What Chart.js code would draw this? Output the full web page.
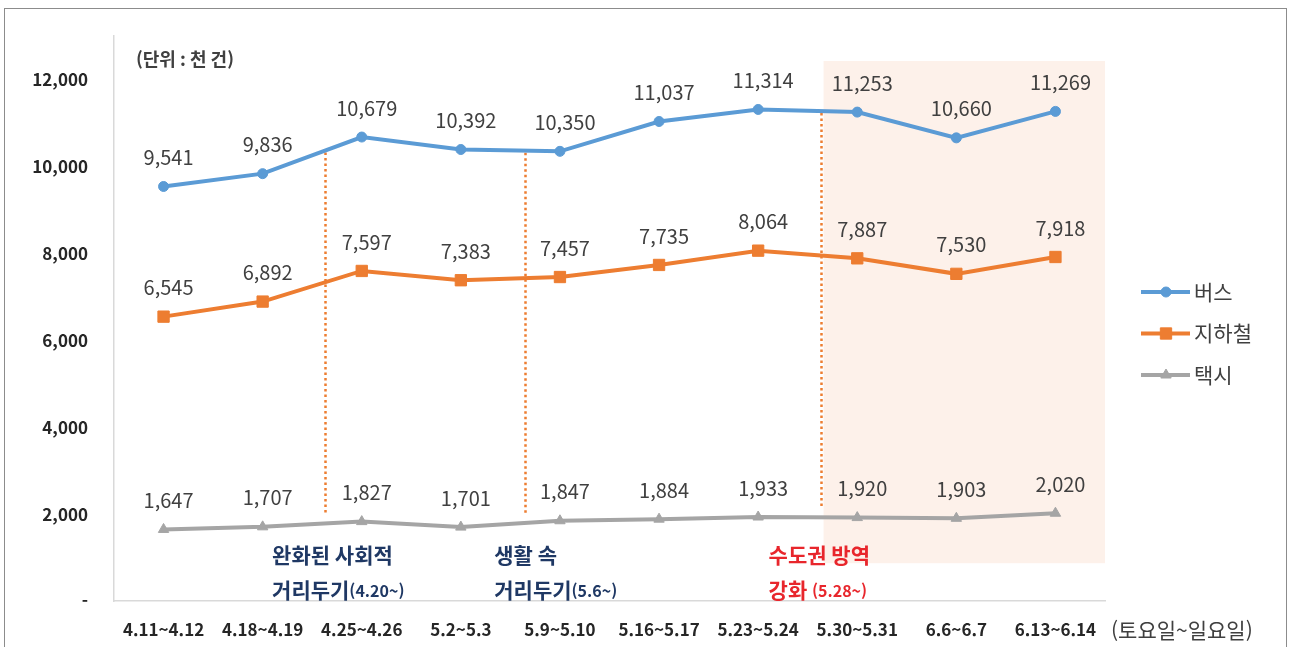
<!DOCTYPE html>
<html lang="ko">
<head>
<meta charset="utf-8">
<title>주말 대중교통 이용 건수</title>
<script src="https://cdn.jsdelivr.net/npm/chart.js@4/dist/chart.umd.min.js"></script>
<style>
  html, body { margin: 0; padding: 0; background: #ffffff; }
  #wrap { position: relative; width: 1289px; height: 647px; }
</style>
</head>
<body>
<div id="wrap"><canvas id="chart" width="1289" height="647"></canvas></div>
<script>
// Weekend periods (Sat~Sun)
const periods = ['4.11~4.12', '4.18~4.19', '4.25~4.26', '5.2~5.3', '5.9~5.10',
                 '5.16~5.17', '5.23~5.24', '5.30~5.31', '6.6~6.7', '6.13~6.14'];

// Usage counts, thousand trips
const bus    = [9541, 9836, 10679, 10392, 10350, 11037, 11314, 11253, 10660, 11269];
const subway = [6545, 6892, 7597, 7383, 7457, 7735, 8064, 7887, 7530, 7918];
const taxi   = [1647, 1707, 1827, 1701, 1847, 1884, 1933, 1920, 1903, 2020];

const seriesNames = ['버스', '지하철', '택시'];
const yTicks = [0, 2000, 4000, 6000, 8000, 10000, 12000];

// Policy milestones: position between weekends (fractional index) and caption
const milestones = [
  { at: 1.63, lines: [['완화된 사회적'], ['거리두기', '(4.20~)']], color: '#1f3864', dx: -53 },
  { at: 3.65, lines: [['생활 속'], ['거리두기', '(5.6~)']], color: '#1f3864', dx: -31 },
  { at: 6.63, lines: [['수도권 방역'], ['강화 ', '(5.28~)']], color: '#e8262c', dx: -52 }
];
const shadeFrom = 6.66;

const COLORS = { bus: '#5b9bd5', subway: '#ed7d31', taxi: '#a5a5a5' };
const FONT = '"Noto Sans CJK KR", "Noto Sans", sans-serif';
const TEXT = '#404040';

function xAt(scale, v) {
  const i = Math.floor(v), t = v - i;
  const a = scale.getPixelForValue(i), b = scale.getPixelForValue(Math.min(i + 1, periods.length - 1));
  return a + (b - a) * t;
}
function valAt(arr, v) {
  const i = Math.floor(v), t = v - i;
  return arr[i] + (arr[i + 1] - arr[i]) * t;
}

const decorations = {
  id: 'decorations',
  beforeDraw(chart) {
    const { ctx, chartArea: ca, scales: { x, y } } = chart;
    ctx.save();
    // frame
    ctx.strokeStyle = '#8c8c8c';
    ctx.lineWidth = 1;
    ctx.strokeRect(4.5, 8.5, 1282, 660);
    // shaded period
    ctx.fillStyle = '#fdf1ea';
    const sx = xAt(x, shadeFrom);
    ctx.fillRect(sx, y.getPixelForValue(12430), ca.right - sx, y.getPixelForValue(870) - y.getPixelForValue(12430));
    ctx.restore();
  },
  beforeDatasetsDraw(chart) {
    const { ctx, scales: { x, y } } = chart;
    ctx.save();
    ctx.strokeStyle = '#ed7d31';
    ctx.lineWidth = 2.5;
    ctx.setLineDash([2.5, 3]);
    milestones.forEach(m => {
      const px = Math.round(xAt(x, m.at)) + 0.5;
      ctx.beginPath();
      ctx.moveTo(px, y.getPixelForValue(valAt(bus, m.at)) + 2);
      ctx.lineTo(px, y.getPixelForValue(valAt(taxi, m.at)) - 10);
      ctx.stroke();
    });
    ctx.restore();
  },
  afterDraw(chart) {
    const { ctx, scales: { x } } = chart;
    ctx.save();
    // data labels
    ctx.fillStyle = TEXT;
    ctx.font = '20px ' + FONT;
    ctx.textAlign = 'center';
    ctx.textBaseline = 'middle';
    chart.data.datasets.forEach((ds, di) => {
      chart.getDatasetMeta(di).data.forEach((pt, i) => {
        ctx.fillText(ds.data[i].toLocaleString('en-US'), pt.x + 5, pt.y - 29);
      });
    });
    // unit
    ctx.textAlign = 'left';
    ctx.font = 'bold 18px ' + FONT;
    ctx.fillText('(단위 : 천 건)', 136, 59);
    // x-axis note
    ctx.font = '21px ' + FONT;
    ctx.fillText('(토요일~일요일)', 1111, 630);
    // milestone captions
    milestones.forEach(m => {
      const px = xAt(x, m.at) + m.dx;
      ctx.fillStyle = m.color;
      m.lines.forEach((parts, li) => {
        let cx = px;
        const cy = 555 + li * 35;
        parts.forEach((p, pi) => {
          ctx.font = (pi === 0 ? 'bold 21px ' : 'bold 16px ') + FONT;
          ctx.fillText(p, cx, cy + (pi === 0 ? 0 : 1));
          cx += ctx.measureText(p).width;
        });
      });
    });
    // legend
    chart.data.datasets.forEach((ds, di) => {
      const ly = 292 + di * 41.5;
      ctx.strokeStyle = ds.borderColor;
      ctx.fillStyle = ds.borderColor;
      ctx.lineWidth = 4;
      ctx.setLineDash([]);
      ctx.beginPath();
      ctx.moveTo(1141, ly);
      ctx.lineTo(1190, ly);
      ctx.stroke();
      ctx.lineWidth = 1;
      Chart.helpers.drawPoint(ctx, { pointStyle: ds.pointStyle, radius: ds.pointRadius, borderWidth: 1, rotation: 0 }, 1166, ly);
      ctx.fillStyle = TEXT;
      ctx.font = '21px ' + FONT;
      ctx.fillText(seriesNames[di], 1194, ly);
    });
    ctx.restore();
  }
};

function series(label, data, color, style, r) {
  return {
    label, data,
    borderColor: color, backgroundColor: color,
    borderWidth: 4, tension: 0,
    pointStyle: style, pointRadius: r, pointHoverRadius: r,
    pointBorderWidth: 1, pointBorderColor: color, pointBackgroundColor: color
  };
}

new Chart(document.getElementById('chart'), {
  type: 'line',
  data: {
    labels: periods,
    datasets: [
      series(seriesNames[0], bus, COLORS.bus, 'circle', 5),
      series(seriesNames[1], subway, COLORS.subway, 'rect', 8),
      series(seriesNames[2], taxi, COLORS.taxi, 'triangle', 6)
    ]
  },
  options: {
    responsive: false,
    animation: false,
    events: [],
    layout: { padding: { top: 33, right: 184, left: 0, bottom: 0 } },
    plugins: { legend: { display: false }, tooltip: { enabled: false } },
    scales: {
      x: {
        offset: true,
        grid: { display: false, drawTicks: false },
        border: { display: true, color: '#d9d9d9', width: 1.5 },
        ticks: {
          color: '#262626', padding: 18, maxRotation: 0, autoSkip: false,
          font: { family: FONT, size: 17, weight: 'bold' }
        },
        afterFit(scale) { scale.height = 46; }
      },
      y: {
        min: 0, max: 13000,
        grid: { display: false, drawTicks: false },
        border: { display: true, color: '#d9d9d9', width: 1.5 },
        afterBuildTicks(scale) { scale.ticks = yTicks.map(v => ({ value: v })); },
        ticks: {
          color: '#262626', padding: 26,
          font: { family: FONT, size: 17, weight: 'bold' },
          callback: v => (v === 0 ? '-' : v.toLocaleString('en-US'))
        },
        afterFit(scale) { scale.width = 114; }
      }
    }
  },
  plugins: [decorations]
});
</script>
</body>
</html>
